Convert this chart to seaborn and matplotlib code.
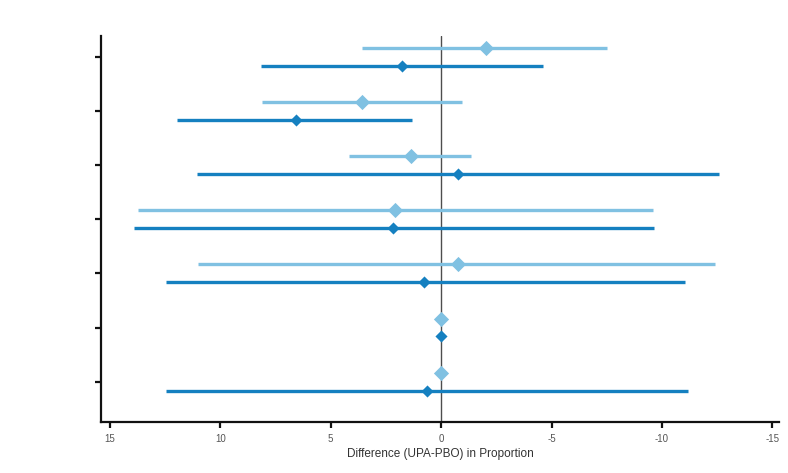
import numpy as np
import pandas as pd
import matplotlib
matplotlib.use("Agg")
import matplotlib.pyplot as plt
import seaborn as sns

# Risk differences (UPA - PBO) with 95% CI, seven outcomes, two doses each
groups = [1, 2, 3, 4, 5, 6, 7]
light_est = [-2.05, 3.56, 1.36, 2.09, -0.76, 0.0, 0.0]
light_lo = [3.56, 8.10, 4.17, 13.71, 11.02, np.nan, np.nan]
light_hi = [-7.50, -0.96, -1.36, -9.59, -12.42, np.nan, np.nan]
dark_est = [1.77, 6.59, -0.76, 2.17, 0.79, 0.0, 0.65]
dark_lo = [8.15, 11.97, 11.06, 13.89, 12.45, np.nan, 12.45]
dark_hi = [-4.62, 1.32, -12.58, -9.65, -11.06, np.nan, -11.17]

xticks = [15, 10, 5, 0, -5, -10, -15]
xlabel = "Difference (UPA-PBO) in Proportion"

LIGHT = "#80c1e2"
DARK = "#1580c0"

sns.set_theme(style="white")
plt.rcParams["font.family"] = ["Liberation Sans", "DejaVu Sans"]

rows = []
for i, g in enumerate(groups):
    rows.append(dict(group=g, arm="light", est=light_est[i], lo=light_lo[i], hi=light_hi[i], y=i - 0.166))
    rows.append(dict(group=g, arm="dark", est=dark_est[i], lo=dark_lo[i], hi=dark_hi[i], y=i + 0.166))
df = pd.DataFrame(rows)

fig = plt.figure(figsize=(7.88, 4.73), dpi=100)
ax = fig.add_axes([101 / 788, (473 - 421.7) / 473, (779 - 101) / 788, (421.7 - 35.7) / 473])

ax.axvline(0, color="#4d4d4d", lw=1.0, zorder=1)

for arm, col in (("light", LIGHT), ("dark", DARK)):
    sub = df[df.arm == arm].dropna(subset=["lo", "hi"])
    ax.hlines(sub["y"], sub["lo"], sub["hi"], color=col, lw=2.4, zorder=2)

sns.scatterplot(data=df[df.arm == "light"], x="est", y="y", marker="D", s=60,
                color=LIGHT, edgecolor=LIGHT, linewidth=0, ax=ax, zorder=3, legend=False)
sns.scatterplot(data=df[df.arm == "dark"], x="est", y="y", marker="D", s=38,
                color=DARK, edgecolor=DARK, linewidth=0, ax=ax, zorder=3, legend=False)

ax.set_xlim(15.4, -15.3)
ax.set_ylim(6.74, -0.39)
ax.set_xticks(xticks)
ax.set_xticklabels([str(t) for t in xticks], fontsize=7, color="#555555")
ax.set_yticks(range(len(groups)))
ax.set_yticklabels([])
ax.set_xlabel(xlabel, fontsize=8.5, color="#333333", labelpad=3)
ax.set_ylabel("")

for side in ("top", "right"):
    ax.spines[side].set_visible(False)
for side in ("left", "bottom"):
    ax.spines[side].set_color("#111111")
    ax.spines[side].set_linewidth(1.6)
ax.tick_params(axis="both", which="both", direction="out", length=4, width=1.6,
               color="#111111", left=True, bottom=True, pad=5)

fig.savefig("out.png", dpi=100)
